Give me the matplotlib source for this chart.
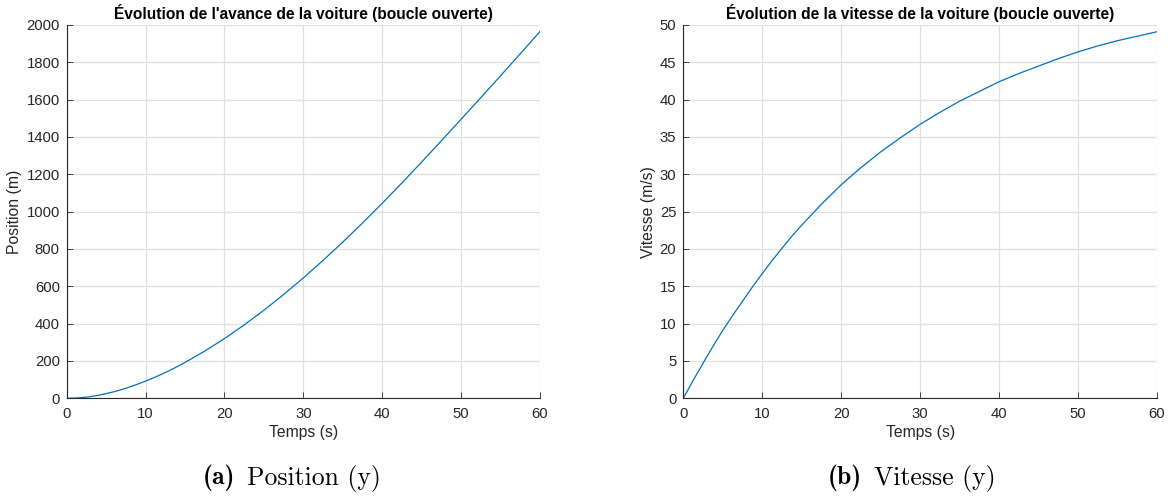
import matplotlib
matplotlib.use("Agg")
import matplotlib.pyplot as plt

# ---- data ----
temps = [0, 1.25, 2.5, 3.75, 5, 6.25, 7.5, 8.75, 10, 11.25, 12.5, 13.75, 15,
         17.5, 20, 22.5, 25, 27.5, 30,
         32.5, 35, 37.5, 40, 42.5, 45, 47.5, 50, 52.5, 55, 57.5, 60]
position = [0, 1.5, 6, 14, 25, 38, 54, 72, 92, 114, 138, 164, 192,
            253, 320, 393, 472, 556, 645,
            739, 837, 939, 1045, 1154, 1266, 1380, 1495, 1611, 1728, 1846, 1965]
vitesse = [0, 2.4, 4.7, 6.95, 9.1, 11.1, 13.0, 14.9, 16.7, 18.45, 20.1, 21.7, 23.2,
           26.0, 28.6, 30.9, 33.0, 34.9, 36.7,
           38.3, 39.8, 41.1, 42.4, 43.5, 44.5, 45.5, 46.4, 47.2, 47.9, 48.5, 49.1]

xticks = [0, 10, 20, 30, 40, 50, 60]
pos_ticks = list(range(0, 2001, 200))
vit_ticks = list(range(0, 51, 5))

titles = ["Évolution de l'avance de la voiture (boucle ouverte)",
          "Évolution de la vitesse de la voiture (boucle ouverte)"]
ylabels = ["Position (m)", "Vitesse (m/s)"]
xlabel = "Temps (s)"
captions = [("(a)", "Position (y)"), ("(b)", "Vitesse (y)")]

plt.rcParams['font.family'] = ['Liberation Sans', 'DejaVu Sans']

W, H = 1169, 496
fig = plt.figure(figsize=(W / 100, H / 100), dpi=100)

line_color = '#0072BD'
dark = '#262626'
grid_c = '#e0e0e0'

axes_px = [(66.7, 540.0), (683.3, 1157.0)]
top_px, bot_px = 25.0, 398.3

series = [position, vitesse]
yticks_all = [pos_ticks, vit_ticks]
ylims = [(0, 2000), (0, 50)]

for i in range(2):
    x0, x1 = axes_px[i]
    ax = fig.add_axes([x0 / W, 1 - bot_px / H, (x1 - x0) / W, (bot_px - top_px) / H])
    ax.plot(temps, series[i], color=line_color, lw=0.9)
    ax.set_xlim(0, 60)
    ax.set_ylim(*ylims[i])
    ax.set_xticks(xticks)
    ax.set_yticks(yticks_all[i])
    ax.grid(True, color=grid_c, lw=0.9)
    ax.set_axisbelow(True)
    for s in ['top', 'right']:
        ax.spines[s].set_visible(False)
    for s in ['left', 'bottom']:
        ax.spines[s].set_color(dark)
        ax.spines[s].set_linewidth(0.8)
    ax.tick_params(direction='in', length=4, width=0.6, colors=dark,
                   labelsize=10.7)
    ax.tick_params(axis='x', pad=6)
    ax.tick_params(axis='y', pad=5)
    ax.set_title(titles[i], fontsize=11.2, fontweight='bold', color='black', pad=4)
    ax.set_xlabel(xlabel, fontsize=11.3, color=dark, labelpad=3)
    ax.set_ylabel(ylabels[i], fontsize=11.3, color=dark, labelpad=3)

# captions: bold label + regular text, centred together
cap_x = [292, 912]
cap_y = 1 - 478 / H
gap_px = 12
renderer = fig.canvas.get_renderer()
for i in range(2):
    lab, txt = captions[i]
    t1 = fig.text(0, cap_y, lab, ha='left', va='center', fontsize=18.5, family='cmb10')
    t2 = fig.text(0, cap_y, txt, ha='left', va='center', fontsize=18.5, family='cmr10')
    w1 = t1.get_window_extent(renderer).width
    w2 = t2.get_window_extent(renderer).width
    total = w1 + gap_px + w2
    start = cap_x[i] - total / 2
    t1.set_x(start / W)
    t2.set_x((start + w1 + gap_px) / W)

fig.savefig("out.png", dpi=100)
